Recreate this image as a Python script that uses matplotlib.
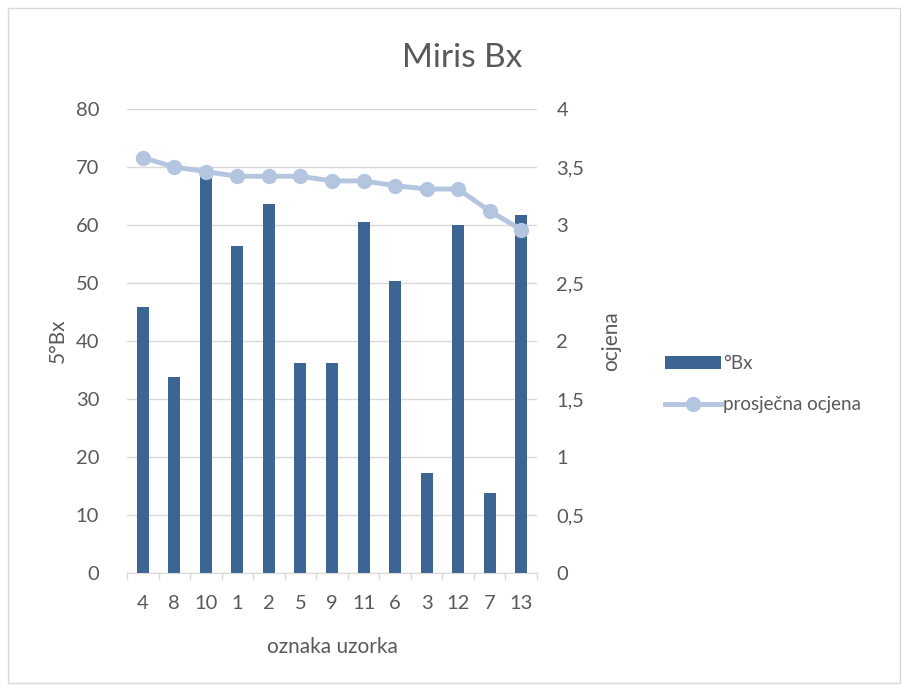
import matplotlib
matplotlib.use("Agg")
import matplotlib.pyplot as plt
from matplotlib.patches import Rectangle

plt.rcParams['font.family'] = ['Lato', 'DejaVu Sans']

# sample labels (x axis order as in the chart)
samples = ["4", "8", "10", "1", "2", "5", "9", "11", "6", "3", "12", "7", "13"]
# °Bx values (left axis)
bx = [45.8, 33.8, 69.0, 56.4, 63.6, 36.2, 36.2, 60.5, 50.3, 17.2, 60.0, 13.8, 61.7]
# average score (right axis)
ocjena = [3.58, 3.50, 3.46, 3.42, 3.42, 3.42, 3.38, 3.38, 3.34, 3.31, 3.31, 3.12, 2.96]

bar_color = "#3c6594"
line_color = "#b4c5e0"
text_color = "#595959"
grid_color = "#d9d9d9"

fig = plt.figure(figsize=(9.02, 6.86), dpi=100)
fig.patches.append(Rectangle((0.009, 0.004), 0.989, 0.985, transform=fig.transFigure,
                             fill=False, edgecolor="#d9d9d9", linewidth=1))

ax = fig.add_axes([0.1408, 0.1647, 0.4545, 0.6764])
x = range(len(samples))
ax.bar(x, bx, width=0.38, color=bar_color, zorder=2, label="°Bx")
ax.set_ylim(0, 80)
ax.set_xlim(-0.5, len(samples) - 0.5)
ax.set_yticks(range(0, 81, 10))
ax.grid(axis="y", color=grid_color, linewidth=1, zorder=0)
ax.set_xticks(list(x))
ax.set_xticklabels(samples)
for s in ["top", "right", "left"]:
    ax.spines[s].set_visible(False)
ax.spines["bottom"].set_color(grid_color)
ax.tick_params(axis="y", length=0, pad=20, labelsize=14.5, labelcolor=text_color)
ax.tick_params(axis="x", length=0, pad=16, labelsize=14.5, labelcolor=text_color)
# small category separator ticks
for i in range(len(samples) + 1):
    ax.plot([i - 0.5, i - 0.5], [0, -1.0], color=grid_color, lw=1, clip_on=False, zorder=1)
ax.set_ylabel("5°Bx", fontsize=15, color=text_color, labelpad=6)
ax.set_xlabel("oznaka uzorka", fontsize=15, color=text_color, labelpad=18)

ax2 = ax.twinx()
ax2.plot(list(x), ocjena, color=line_color, lw=3.5, marker="o", markersize=10,
         zorder=3, label="prosječna ocjena")
ax2.set_ylim(0, 4)
ax2.set_yticks([0, 0.5, 1, 1.5, 2, 2.5, 3, 3.5, 4])
ax2.set_yticklabels(["0", "0,5", "1", "1,5", "2", "2,5", "3", "3,5", "4"])
for s in ["top", "right", "left", "bottom"]:
    ax2.spines[s].set_visible(False)
ax2.tick_params(axis="y", length=0, pad=14, labelsize=14.5, labelcolor=text_color)
ax2.set_ylabel("ocjena", fontsize=15, color=text_color, labelpad=12)

fig.text(0.512, 0.915, "Miris Bx", fontsize=24, color=text_color, ha="center", va="center")

h1, l1 = ax.get_legend_handles_labels()
h2, l2 = ax2.get_legend_handles_labels()
fig.legend(h1 + h2, l1 + l2, loc="center left", bbox_to_anchor=(0.718, 0.44),
           frameon=False, fontsize=13.5, labelcolor=text_color, handlelength=3.0,
           handletextpad=0.1, labelspacing=1.3)

fig.savefig("out.png", dpi=100)
